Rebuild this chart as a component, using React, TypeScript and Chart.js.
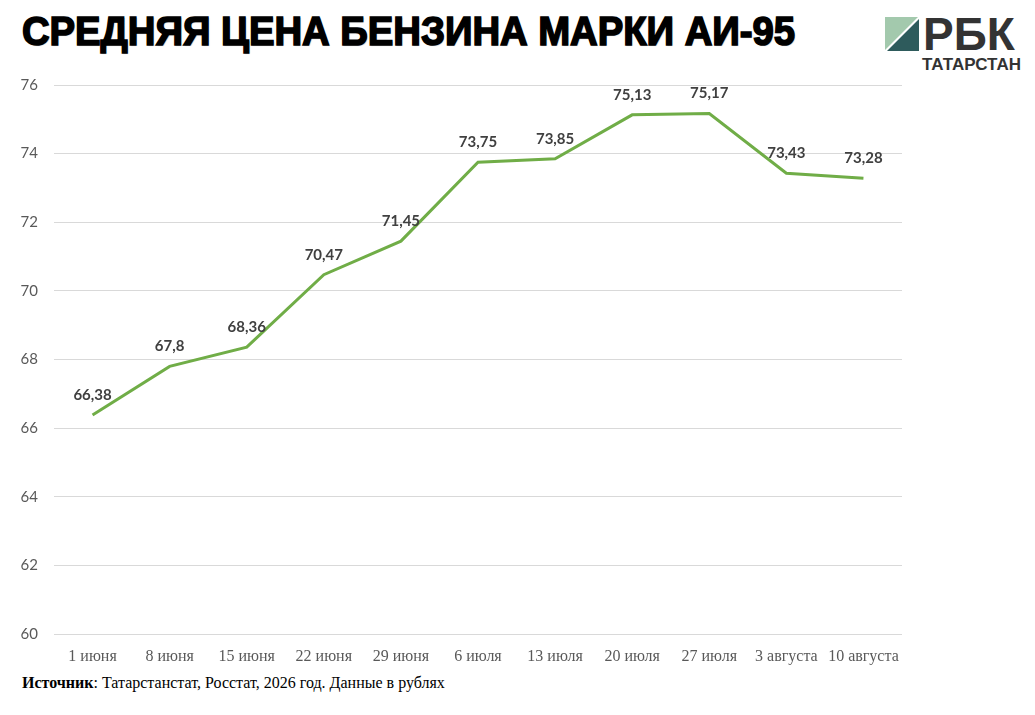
import { useEffect, useLayoutEffect, useRef } from 'react';
import { Chart, registerables } from 'chart.js';

Chart.register(...registerables);

// dates of measurement
const weeks = [
  '1 июня',
  '8 июня',
  '15 июня',
  '22 июня',
  '29 июня',
  '6 июля',
  '13 июля',
  '20 июля',
  '27 июля',
  '3 августа',
  '10 августа',
];

// average price of AI-95, rubles
const prices = [66.38, 67.8, 68.36, 70.47, 71.45, 73.75, 73.85, 75.13, 75.17, 73.43, 73.28];

const yMin = 60;
const yMax = 76;
const yStep = 2;

// draws the value above every point
const valueLabels = {
  id: 'valueLabels',
  afterDatasetsDraw(chart: any) {
    const ctx = chart.ctx;
    const meta = chart.getDatasetMeta(0);
    ctx.save();
    ctx.font = 'bold 15px Lato, "Open Sans", sans-serif';
    ctx.fillStyle = '#404040';
    ctx.textAlign = 'center';
    ctx.textBaseline = 'middle';
    meta.data.forEach((pt: any, i: number) => {
      const txt = String(prices[i]).replace('.', ',');
      ctx.fillText(txt, pt.x, pt.y - 20);
    });
    ctx.restore();
  },
};

function Title() {
  const ref = useRef<HTMLSpanElement>(null);
  useLayoutEffect(() => {
    const el = ref.current;
    if (!el) return;
    el.style.transform = 'none';
    const w = el.getBoundingClientRect().width;
    el.style.transform = `scaleX(${773 / w})`;
  }, []);
  return (
    <span
      ref={ref}
      style={{
        position: 'absolute',
        left: 22,
        top: 7,
        fontFamily: '"Liberation Sans", Arial, sans-serif',
        fontWeight: 900,
        fontSize: 41,
        lineHeight: '48px',
        color: '#000',
        WebkitTextStroke: '1.6px #000',
        transformOrigin: 'left top',
        whiteSpace: 'nowrap',
        textShadow: '1px 1px 1px rgba(0,0,0,0.25)',
      }}
    >
      СРЕДНЯЯ ЦЕНА БЕНЗИНА МАРКИ АИ-95
    </span>
  );
}

function Logo() {
  return (
    <div style={{ position: 'absolute', left: 885, top: 10, width: 140, height: 65 }}>
      <svg width="34" height="34" style={{ position: 'absolute', left: 0, top: 7 }}>
        <polygon points="0,0 33,0 0,33" fill="#a3c9ad" />
        <polygon points="34,2 34,34 2,34" fill="#2e5b5c" />
      </svg>
      <span
        style={{
          position: 'absolute',
          left: 38,
          top: 0,
          fontFamily: '"Liberation Sans", Arial, sans-serif',
          fontWeight: 700,
          fontSize: 46,
          lineHeight: '48px',
          color: '#333333',
        }}
      >
        РБК
      </span>
      <span
        style={{
          position: 'absolute',
          left: 37,
          top: 45,
          fontFamily: '"Liberation Sans", Arial, sans-serif',
          fontWeight: 700,
          fontSize: 17,
          lineHeight: '20px',
          color: '#333333',
          whiteSpace: 'nowrap',
        }}
      >
        ТАТАРСТАН
      </span>
    </div>
  );
}

export default function App() {
  const canvasRef = useRef<HTMLCanvasElement>(null);
  const chartRef = useRef<Chart | null>(null);

  useEffect(() => {
    if (!canvasRef.current) return;
    if (chartRef.current) {
      chartRef.current.destroy();
      chartRef.current = null;
    }
    const ctx = canvasRef.current.getContext('2d');
    if (!ctx) return;

    chartRef.current = new Chart(ctx, {
      type: 'line',
      data: {
        labels: weeks,
        datasets: [
          {
            data: prices,
            borderColor: '#70ad47',
            backgroundColor: '#70ad47',
            borderWidth: 3,
            pointRadius: 0,
            tension: 0,
          },
        ],
      },
      options: {
        responsive: false,
        animation: false,
        layout: { padding: { top: 7, right: 8, left: 0, bottom: 0 } },
        plugins: {
          legend: { display: false },
          tooltip: { enabled: false },
        },
        scales: {
          x: {
            offset: true,
            grid: { display: false },
            border: { display: false },
            ticks: {
              color: '#595959',
              font: { family: '"Liberation Serif", "Times New Roman", serif', size: 16 },
              padding: 5,
              maxRotation: 0,
              autoSkip: false,
            },
            afterFit: (s: any) => {
              s.height = 36;
            },
          },
          y: {
            min: yMin,
            max: yMax,
            grid: { color: '#d9d9d9', lineWidth: 1, drawTicks: false },
            border: { display: false },
            ticks: {
              stepSize: yStep,
              color: '#595959',
              font: { family: 'Lato, "Open Sans", sans-serif', size: 15 },
              padding: 16,
            },
            afterFit: (s: any) => {
              s.width = 54;
            },
          },
        },
      } as any,
      plugins: [valueLabels],
    });

    return () => {
      if (chartRef.current) {
        chartRef.current.destroy();
        chartRef.current = null;
      }
    };
  }, []);

  return (
    <div
      style={{
        position: 'fixed',
        left: 0,
        top: 0,
        width: 1035,
        height: 715,
        background: '#fff',
        overflow: 'hidden',
      }}
    >
      <Title />
      <Logo />
      <canvas
        ref={canvasRef}
        width={910}
        height={610}
        style={{ position: 'absolute', left: 0, top: 60, width: 910, height: 610 }}
      />
      <div
        style={{
          position: 'absolute',
          left: 22,
          top: 673,
          fontFamily: '"Liberation Serif", "Times New Roman", serif',
          fontSize: 16,
          lineHeight: '20px',
          color: '#000',
        }}
      >
        <b>Источник</b>: Татарстанстат, Росстат, 2026 год. Данные в рублях
      </div>
    </div>
  );
}
